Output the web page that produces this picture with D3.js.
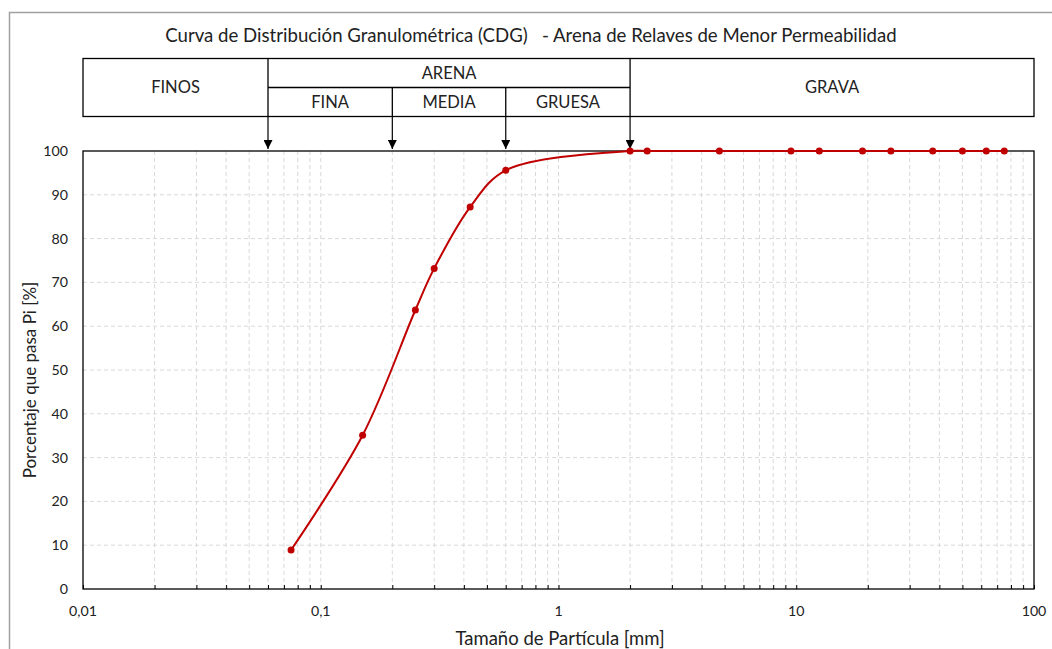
<!DOCTYPE html>
<html>
<head>
<meta charset="utf-8">
<script src="https://cdn.jsdelivr.net/npm/d3@7"></script>
<style>
  body { margin: 0; background: #fff; }
  svg { font-family: Lato, "Open Sans", sans-serif; }
  text { white-space: pre; }
  .grid line { stroke: #d9d9d9; stroke-dasharray: 4 3; }
</style>
</head>
<body>
<svg id="chart" width="1052" height="649"></svg>
<script>
const sizes = [0.075, 0.15, 0.25, 0.3, 0.425, 0.6, 2, 2.36, 4.75, 9.5, 12.5, 19, 25, 37.5, 50, 63, 75];
const passing = [8.9, 35.1, 63.7, 73.2, 87.2, 95.6, 100, 100, 100, 100, 100, 100, 100, 100, 100, 100, 100];
const limits = [0.06, 0.2, 0.6, 2];
const xTicks = [0.01, 0.1, 1, 10, 100];
const xTickLabels = ["0,01", "0,1", "1", "10", "100"];
const yTicks = [0, 10, 20, 30, 40, 50, 60, 70, 80, 90, 100];

const svg = d3.select("#chart");
const width = 1052;
const margin = { top: 151, right: 18, bottom: 60, left: 83 };
const plotBottom = 589;

const x = d3.scaleLog().domain([0.01, 100]).range([margin.left, width - margin.right]);
const y = d3.scaleLinear().domain([0, 100]).range([plotBottom, margin.top]);

// outer frame (only top/left visible)
svg.append("path")
  .attr("d", `M9.5,649 V12.5 H1052`)
  .attr("fill", "none")
  .attr("stroke", "#a0a0a0")
  .attr("stroke-width", 1.5);

svg.append("text")
  .attr("x", 531)
  .attr("y", 42)
  .attr("text-anchor", "middle")
  .attr("font-size", 18.6)
  .attr("fill", "#222")
  .text("Curva de Distribución Granulométrica (CDG)   - Arena de Relaves de Menor Permeabilidad");

// classification header
const head = svg.append("g").attr("fill", "none").attr("stroke", "#000").attr("stroke-width", 1.3);
const hTop = 58.5, hMid = 87.5, hBot = 116.5;
head.append("rect")
  .attr("x", margin.left).attr("y", hTop)
  .attr("width", x(100) - margin.left).attr("height", hBot - hTop);
head.append("line").attr("x1", x(limits[0])).attr("x2", x(limits[3])).attr("y1", hMid).attr("y2", hMid);
[limits[0], limits[3]].forEach((v) => {
  head.append("line").attr("x1", x(v)).attr("x2", x(v)).attr("y1", hTop).attr("y2", hBot);
});
[limits[1], limits[2]].forEach((v) => {
  head.append("line").attr("x1", x(v)).attr("x2", x(v)).attr("y1", hMid).attr("y2", hBot);
});

const headLabels = [
  { t: "FINOS", x: (margin.left + x(limits[0])) / 2, y: (hTop + hBot) / 2 },
  { t: "ARENA", x: (x(limits[0]) + x(limits[3])) / 2, y: (hTop + hMid) / 2 },
  { t: "FINA", x: (x(limits[0]) + x(limits[1])) / 2, y: (hMid + hBot) / 2 },
  { t: "MEDIA", x: (x(limits[1]) + x(limits[2])) / 2, y: (hMid + hBot) / 2 },
  { t: "GRUESA", x: (x(limits[2]) + x(limits[3])) / 2, y: (hMid + hBot) / 2 },
  { t: "GRAVA", x: (x(limits[3]) + x(100)) / 2, y: (hTop + hBot) / 2 },
];
svg.append("g")
  .selectAll("text")
  .data(headLabels)
  .join("text")
  .attr("x", (d) => d.x)
  .attr("y", (d) => d.y)
  .attr("dy", "0.35em")
  .attr("text-anchor", "middle")
  .attr("font-size", 16.5)
  .attr("fill", "#222")
  .text((d) => d.t);

// gridlines
const minor = [];
for (let e = -2; e < 2; e++) for (let k = 1; k < 10; k++) minor.push(k * Math.pow(10, e));
minor.push(100);

svg.append("g").attr("class", "grid")
  .selectAll("line")
  .data(minor.filter((v) => v > 0.01 && v < 100))
  .join("line")
  .attr("x1", (d) => x(d)).attr("x2", (d) => x(d))
  .attr("y1", margin.top).attr("y2", plotBottom)
  .attr("stroke", (d) => (xTicks.includes(+d.toPrecision(3)) ? "#c8c8c8" : "#e6e6e6"));

svg.append("g").attr("class", "grid")
  .selectAll("line")
  .data(yTicks.filter((v) => v > 0 && v < 100))
  .join("line")
  .attr("x1", margin.left).attr("x2", x(100))
  .attr("y1", (d) => y(d)).attr("y2", (d) => y(d));

// plot frame
svg.append("rect")
  .attr("x", margin.left).attr("y", margin.top)
  .attr("width", x(100) - margin.left).attr("height", plotBottom - margin.top)
  .attr("fill", "none").attr("stroke", "#000").attr("stroke-width", 1.3);

// x axis (inside ticks)
const xAxis = svg.append("g")
  .attr("transform", `translate(0,${plotBottom})`)
  .call(d3.axisBottom(x).tickValues(minor).tickSize(-4).tickFormat(""));
xAxis.select(".domain").remove();
xAxis.selectAll("line").attr("stroke", "#000");

svg.append("g")
  .selectAll("text")
  .data(xTicks)
  .join("text")
  .attr("x", (d) => x(d))
  .attr("y", 616)
  .attr("text-anchor", "middle")
  .attr("font-size", 14.2)
  .attr("fill", "#222")
  .text((d, i) => xTickLabels[i]);

// y axis labels
svg.append("g")
  .selectAll("text")
  .data(yTicks)
  .join("text")
  .attr("x", 68)
  .attr("y", (d) => y(d))
  .attr("dy", "0.35em")
  .attr("text-anchor", "end")
  .attr("font-size", 14.2)
  .attr("fill", "#222")
  .text((d) => d);

svg.append("text")
  .attr("x", 560)
  .attr("y", 645)
  .attr("text-anchor", "middle")
  .attr("font-size", 18.5)
  .attr("fill", "#222")
  .text("Tamaño de Partícula [mm]");

svg.append("text")
  .attr("transform", `translate(36,${(margin.top + plotBottom) / 2 + 10}) rotate(-90)`)
  .attr("text-anchor", "middle")
  .attr("font-size", 17)
  .attr("fill", "#222")
  .text("Porcentaje que pasa Pi [%]");

// arrows from header to plot
svg.append("defs").append("marker")
  .attr("id", "arrow")
  .attr("viewBox", "0 0 10 10")
  .attr("refX", 10).attr("refY", 5)
  .attr("markerWidth", 9).attr("markerHeight", 9)
  .attr("markerUnits", "userSpaceOnUse")
  .attr("orient", "auto")
  .append("path")
  .attr("d", "M0,0 L10,5 L0,10 z")
  .attr("fill", "#000");

svg.append("g")
  .selectAll("line")
  .data(limits)
  .join("line")
  .attr("x1", (d) => x(d)).attr("x2", (d) => x(d))
  .attr("y1", hBot).attr("y2", margin.top - 2)
  .attr("stroke", "#000").attr("stroke-width", 1.2)
  .attr("marker-end", "url(#arrow)");

// curve
const pts = sizes.map((s, i) => [x(s), y(passing[i])]);
svg.append("path")
  .attr("d", d3.line().curve(d3.curveCatmullRom.alpha(0.5))(pts))
  .attr("fill", "none")
  .attr("stroke", "#c00000")
  .attr("stroke-width", 2);

svg.append("g")
  .selectAll("circle")
  .data(pts)
  .join("circle")
  .attr("cx", (d) => d[0])
  .attr("cy", (d) => d[1])
  .attr("r", 3.5)
  .attr("fill", "#c00000");
</script>
</body>
</html>
